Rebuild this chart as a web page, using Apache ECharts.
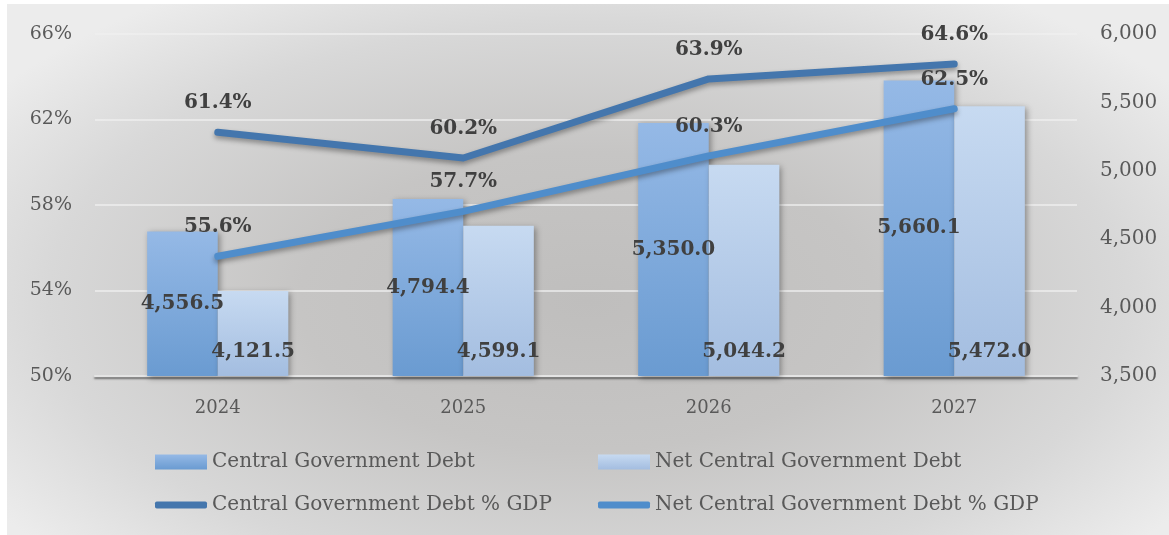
<!DOCTYPE html>
<html>
<head>
<meta charset="utf-8">
<script src="https://cdn.jsdelivr.net/npm/echarts@6/dist/echarts.min.js"></script>
<style>
  html, body { margin: 0; padding: 0; background: #ffffff; }
  #chart {
    position: absolute; left: 7px; top: 4px; width: 1162px; height: 531px;
    background: radial-gradient(ellipse 62% 70% at 50% 56%, #bfbebd 0%, #c6c5c4 40%, #d8d8d8 75%, #ececec 100%);
  }
</style>
</head>
<body>
<div id="chart"></div>
<script>
// Fiscal years shown on the category axis
const years = ['2024', '2025', '2026', '2027'];
// Debt levels (right axis)
const centralDebt = [4556.5, 4794.4, 5350.0, 5660.1];
const netCentralDebt = [4121.5, 4599.1, 5044.2, 5472.0];
// Debt as share of GDP, in percent (left axis)
const centralDebtPct = [61.4, 60.2, 63.9, 64.6];
const netCentralDebtPct = [55.6, 57.7, 60.3, 62.5];
// Axis ranges
const pctTicks = { min: 50, max: 66, interval: 4 };
const debtTicks = { min: 3500, max: 6000, interval: 500 };

const FONT = 'DejaVu Serif';
const fmtDebt = v => v.toLocaleString('en-US', { minimumFractionDigits: 1, maximumFractionDigits: 1 });
const fmtInt = v => v.toLocaleString('en-US');

const grad = (top, bottom) => new echarts.graphic.LinearGradient(0, 0, 0, 1, [
  { offset: 0, color: top }, { offset: 1, color: bottom }
]);

const barShadow = { shadowColor: 'rgba(0,0,0,0.35)', shadowBlur: 6, shadowOffsetX: 2, shadowOffsetY: 2 };
const lineShadow = { shadowColor: 'rgba(0,0,0,0.35)', shadowBlur: 5, shadowOffsetX: 0, shadowOffsetY: 3 };

const labelStyle = { fontFamily: FONT, fontWeight: 'bold', fontSize: 20, color: '#404040' };
const legendText = { fontFamily: FONT, fontSize: 20, color: '#595959' };

const chart = echarts.init(document.getElementById('chart'), null, { renderer: 'canvas' });

function legendAt(name, left, top, icon, h) {
  return {
    data: [{ name: name, icon: icon }],
    left: left, top: top, padding: 0,
    itemWidth: 52, itemHeight: h, itemGap: 6,
    textStyle: legendText,
    selectedMode: false
  };
}

function pctLine(name, values, color) {
  return {
    name: name,
    type: 'line',
    yAxisIndex: 0,
    data: values,
    symbol: 'circle',
    symbolSize: 1,
    color: color,
    itemStyle: { color: color },
    lineStyle: Object.assign({ color: color, width: 7, cap: 'round', join: 'round' }, lineShadow),
    label: Object.assign({ show: true, position: 'top', distance: 19, formatter: p => p.value.toFixed(1) + '%' }, labelStyle),
    labelLayout: { hideOverlap: false },
    z: 4
  };
}

chart.setOption({
  backgroundColor: 'transparent',
  animation: false,
  grid: { left: 88, right: 92, top: 30, bottom: 159 },
  legend: [
    legendAt('Central Government Debt', 148, 448, 'rect', 15),
    legendAt('Net Central Government Debt', 591, 448, 'rect', 15),
    legendAt('Central Government Debt % GDP', 148, 491, 'roundRect', 7),
    legendAt('Net Central Government Debt % GDP', 591, 491, 'roundRect', 7)
  ],
  xAxis: {
    type: 'category',
    data: years,
    axisTick: { show: false },
    axisLine: { lineStyle: { color: '#e4e4e4', width: 2, shadowColor: 'rgba(0,0,0,0.5)', shadowBlur: 2, shadowOffsetY: 2 } },
    axisLabel: { fontFamily: FONT, fontSize: 18, color: '#595959', margin: 23 }
  },
  yAxis: [
    {
      type: 'value',
      min: pctTicks.min, max: pctTicks.max, interval: pctTicks.interval,
      axisLine: { show: false }, axisTick: { show: false },
      axisLabel: { fontFamily: FONT, fontSize: 19, color: '#595959', margin: 23, formatter: '{value}%' },
      splitLine: { lineStyle: { color: 'rgba(240,240,240,0.7)', width: 2 } }
    },
    {
      type: 'value',
      min: debtTicks.min, max: debtTicks.max, interval: debtTicks.interval,
      axisLine: { show: false }, axisTick: { show: false },
      axisLabel: { fontFamily: FONT, fontSize: 20, color: '#595959', margin: 23, formatter: fmtInt },
      splitLine: { show: false }
    }
  ],
  series: [
    {
      name: 'Central Government Debt',
      type: 'bar',
      yAxisIndex: 1,
      data: centralDebt,
      barGap: '0%',
      barCategoryGap: '42.5%',
      itemStyle: Object.assign({ color: grad('#95b9e6', '#6a9bd1') }, barShadow),
      label: Object.assign({ show: true, position: 'inside', formatter: p => fmtDebt(p.value) }, labelStyle),
      z: 2
    },
    {
      name: 'Net Central Government Debt',
      type: 'bar',
      yAxisIndex: 1,
      data: netCentralDebt,
      itemStyle: Object.assign({ color: grad('#c7daf1', '#a3bde0') }, barShadow),
      label: Object.assign({ show: true, position: 'insideBottom', distance: 14, formatter: p => fmtDebt(p.value) }, labelStyle),
      z: 2
    },
    pctLine('Central Government Debt % GDP', centralDebtPct, '#4476ad'),
    pctLine('Net Central Government Debt % GDP', netCentralDebtPct, '#4f8dcb')
  ]
});
</script>
</body>
</html>
